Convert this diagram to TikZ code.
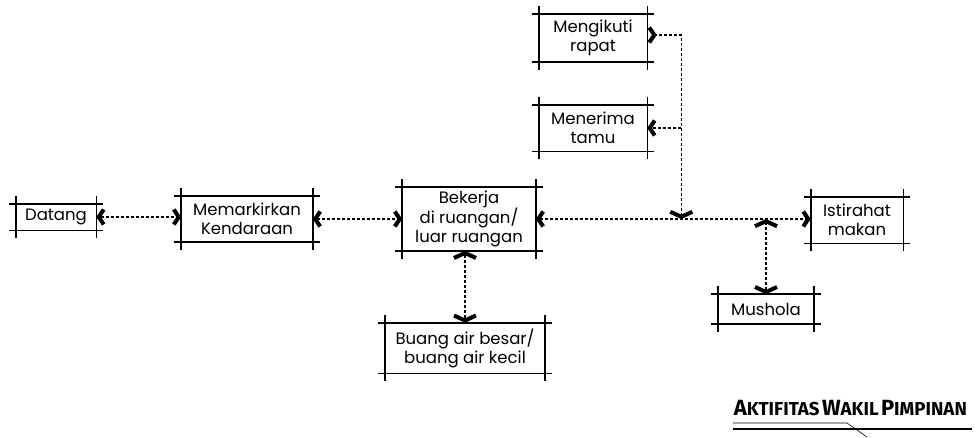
\documentclass[tikz,border=0pt]{standalone}
\usepackage{fontspec}
\setmainfont{Poppins}
\newfontfamily\titlefont{Fira Sans}
\usetikzlibrary{arrows.meta}

\tikzset{Junc/.tip={Straight Barb[length=5pt,width=22pt,line width=4pt]}}

\begin{document}
\begin{tikzpicture}[x=1pt,y=-1pt,line width=1.6pt,
  >={Straight Barb[length=5pt,width=15pt,line width=4pt]},
  box/.style={inner sep=0pt,align=center,font=\fontsize{16.5}{19}\selectfont},
  link/.style={line width=1.3pt,dash pattern=on 3pt off 2pt}]
\useasboundingbox (0,0) rectangle (979,437);
% activities
\node[box,minimum width=79,minimum height=25] (datang) at (56,217) {Datang};
\node[box,minimum width=130,minimum height=44] (parkir) at (247,219) {Memarkirkan\\Kendaraan};
\node[box,minimum width=132,minimum height=62] (kerja) at (469,219) {Bekerja\\di ruangan/\\luar ruangan};
\node[box,minimum width=107,minimum height=46] (rapat) at (593,38) {Mengikuti\\rapat};
\node[box,minimum width=107,minimum height=45] (tamu) at (593,128) {Menerima\\tamu};
\node[box,minimum width=91,minimum height=45] (istirahat) at (857,220) {Istirahat\\makan};
\node[box,minimum width=94,minimum height=28] (mushola) at (766,309) {Mushola};
\node[box,minimum width=158,minimum height=49] (buang) at (465,348) {Buang air besar/\\buang air kecil};
% sketchy frames, lines run past the corners
\foreach \n in {datang,parkir,kerja,rapat,tamu,istirahat,mushola,buang} {
  \draw ([xshift=-7pt]\n.north west) -- ([xshift=7pt]\n.north east);
  \draw ([xshift=-7pt]\n.south west) -- ([xshift=7pt]\n.south east);
  \draw ([yshift=8pt]\n.north west) -- ([yshift=-8pt]\n.south west);
  \draw ([yshift=8pt]\n.north east) -- ([yshift=-8pt]\n.south east);
}
% flows
\draw[link,<->] (datang.east) -- (datang.east -| parkir.west);
\draw[link,<->] (parkir.east) -- (parkir.east -| kerja.west);
\draw[link,<->] (kerja.east) -- (kerja.east -| istirahat.west);
\coordinate (jrapat) at ([xshift=34pt,yshift=3pt]rapat.east);
\draw[link,{>}-{Junc}] (rapat.east |- jrapat) -- (jrapat) -- (jrapat |- kerja.east);
\draw[link,->] (jrapat |- tamu.east) -- (tamu.east);
\draw[link,{Junc}-{Junc}] (mushola.north) -- (mushola.north |- kerja.east);
\draw[link,{Junc}-{Junc}] (buang.north |- kerja.south) -- (buang.north);
% title
\node[anchor=base west,inner sep=0pt,font=\titlefont\bfseries] (judul) at (733,415)
  {{\fontsize{22}{22}\selectfont A}{\fontsize{18.7}{19}\selectfont KTIFITAS}
   {\fontsize{22}{22}\selectfont W}{\fontsize{18.7}{19}\selectfont AKIL}
   {\fontsize{22}{22}\selectfont P}{\fontsize{18.7}{19}\selectfont IMPINAN}};
\draw[line width=0.6pt] (733,423) -- (847,423) -- (867,437);
\draw[line width=2.6pt] (733,429) -- (972,429);
\end{tikzpicture}
\end{document}
